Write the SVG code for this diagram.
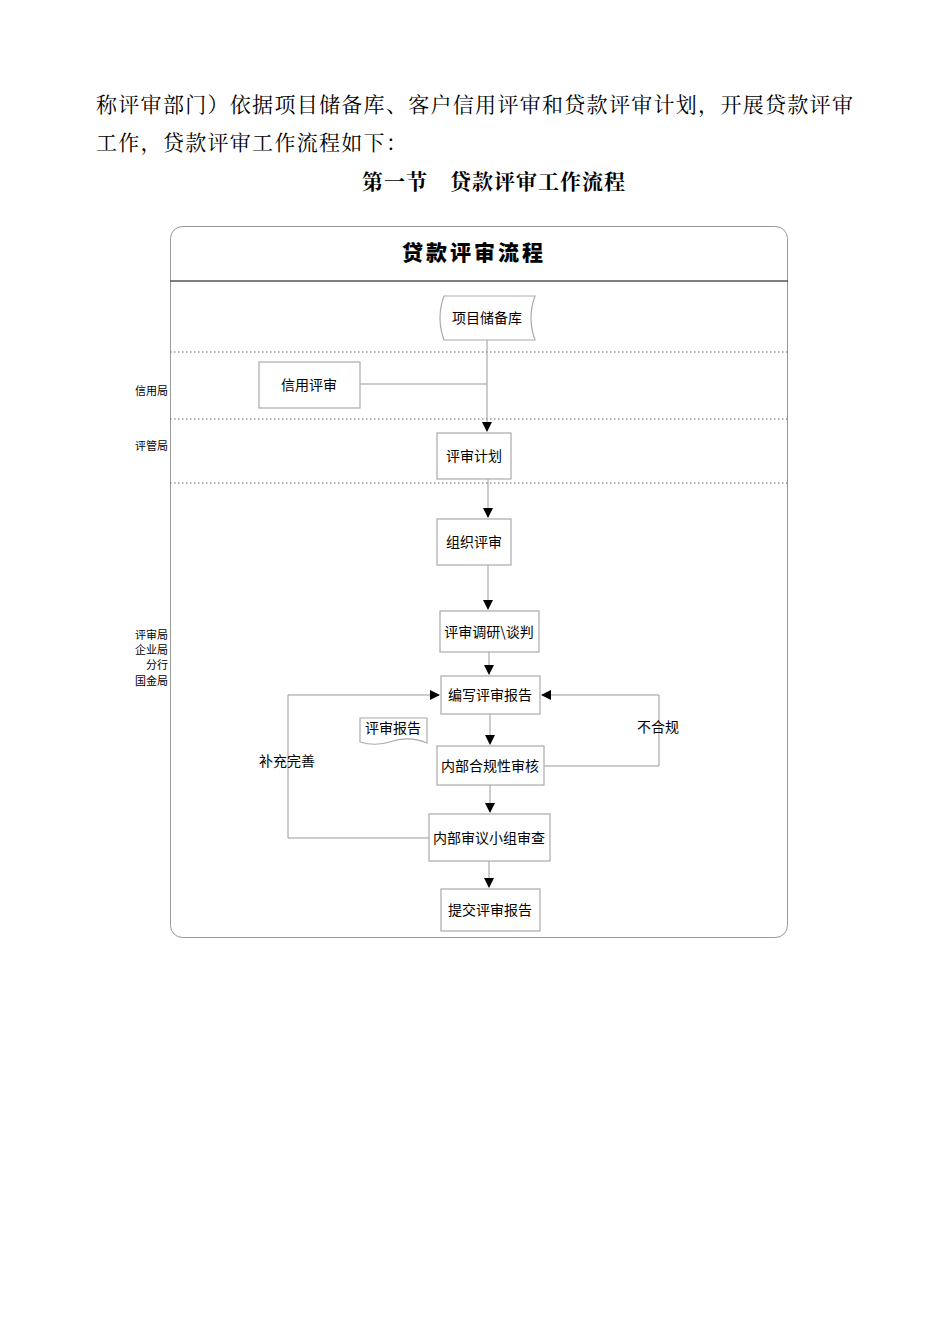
<svg xmlns="http://www.w3.org/2000/svg" width="950" height="1344" viewBox="0 0 950 1344">
<style>
.t{font-family:"Noto Sans CJK SC",sans-serif;font-size:14px;fill:#000;text-anchor:middle}
.p{font-family:"Noto Serif CJK SC","Noto Sans CJK SC",serif;font-size:21px;fill:#000;letter-spacing:1.3px}
.b{fill:#fff;stroke:#aaa;stroke-width:1.2}
.c{fill:none;stroke:#999;stroke-width:1}
.d{stroke:#666;stroke-width:1;stroke-dasharray:1.5 2.5}
.l{font-family:"Noto Sans CJK SC",sans-serif;font-size:11px;fill:#000;text-anchor:end}
</style>
<defs><marker id="a" markerWidth="10" markerHeight="10" refX="9" refY="5" orient="auto" markerUnits="userSpaceOnUse"><path d="M0,0 L10,5 L0,10 Z" fill="#000"/></marker></defs>
<rect width="950" height="1344" fill="#fff"/>
<text class="p" x="96" y="112">称评审部门）依据项目储备库、客户信用评审和贷款评审计划，开展贷款评审</text>
<text class="p" x="96" y="150">工作，贷款评审工作流程如下：</text>
<text class="p" x="494" y="189" text-anchor="middle" font-weight="bold" font-size="22" style="letter-spacing:1px">第一节　贷款评审工作流程</text>
<rect x="170.5" y="226.5" width="617" height="711" rx="12" fill="none" stroke="#999"/>
<line x1="170" y1="281" x2="788" y2="281" stroke="#555" stroke-width="1.5"/>
<text x="474" y="260" text-anchor="middle" font-family="Noto Sans CJK SC,sans-serif" font-size="21" font-weight="900" letter-spacing="3">贷款评审流程</text>
<line class="d" x1="170" y1="352" x2="790" y2="352"/>
<line class="d" x1="170" y1="419" x2="790" y2="419"/>
<line class="d" x1="170" y1="483" x2="790" y2="483"/>
<text class="l" x="168" y="395">信用局</text>
<text class="l" x="168" y="450">评管局</text>
<text class="l" x="168" y="639">评审局</text>
<text class="l" x="168" y="654">企业局</text>
<text class="l" x="168" y="669">分行</text>
<text class="l" x="168" y="685">国金局</text>
<g id="connectors">
<path class="c" d="M487,340 V431" marker-end="url(#a)"/>
<path class="c" d="M360,384 H487"/>
<path class="c" d="M488,479 V517" marker-end="url(#a)"/>
<path class="c" d="M488,565 V609" marker-end="url(#a)"/>
<path class="c" d="M489,652 V674" marker-end="url(#a)"/>
<path class="c" d="M490,714 V744" marker-end="url(#a)"/>
<path class="c" d="M490,785 V812" marker-end="url(#a)"/>
<path class="c" d="M489,861 V887" marker-end="url(#a)"/>
<path class="c" d="M544,766 H659 V695 H542" marker-end="url(#a)"/>
<path class="c" d="M429,838 H288 V695 H439" marker-end="url(#a)"/>
<text class="t" x="658" y="732" font-size="12">不合规</text>
<text class="t" x="287" y="766" font-size="12">补充完善</text>
</g>
<g id="n1"><path class="b" d="M444,296 H535 Q527,318 535,340 H444 Q436,318 444,296 Z"/><text class="t" x="487" y="323">项目储备库</text></g>
<g id="n2"><rect class="b" x="259" y="362" width="101" height="46"/><text class="t" x="309" y="390">信用评审</text></g>
<g id="n3"><rect class="b" x="437" y="433" width="74" height="46"/><text class="t" x="474" y="461">评审计划</text></g>
<g id="n4"><rect class="b" x="437" y="519" width="74" height="46"/><text class="t" x="474" y="547">组织评审</text></g>
<g id="n5"><rect class="b" x="440" y="611" width="99" height="41"/><text class="t" x="489" y="637">评审调研\谈判</text></g>
<g id="n6"><rect class="b" x="441" y="676" width="99" height="38"/><text class="t" x="490" y="700">编写评审报告</text></g>
<g id="n7"><path class="b" d="M360,718 H427 V743 Q410,736 393,741 Q376,747 360,742 Z"/><text class="t" x="393" y="733" font-size="11">评审报告</text></g>
<g id="n8"><rect class="b" x="437" y="746" width="107" height="39"/><text class="t" x="490" y="771">内部合规性审核</text></g>
<g id="n9"><rect class="b" x="429" y="814" width="121" height="47"/><text class="t" x="489" y="843">内部审议小组审查</text></g>
<g id="n10"><rect class="b" x="441" y="889" width="99" height="42"/><text class="t" x="490" y="915">提交评审报告</text></g>
</svg>
